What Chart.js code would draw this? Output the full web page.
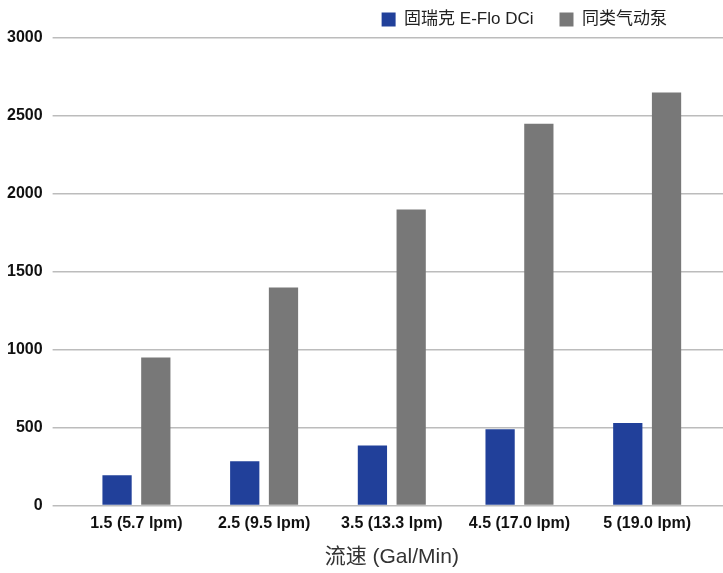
<!DOCTYPE html>
<html>
<head>
<meta charset="utf-8">
<script src="https://cdn.jsdelivr.net/npm/chart.js@4/dist/chart.umd.min.js"></script>
<style>
  body { margin: 0; background: #fff; }
  #wrap { width: 723px; height: 573px; }
</style>
</head>
<body>
<div id="wrap"><canvas id="flowChart"></canvas></div>
<script>
// flow rate categories and outputs
const flowLabels = ['1.5 (5.7 lpm)', '2.5 (9.5 lpm)', '3.5 (13.3 lpm)', '4.5 (17.0 lpm)', '5 (19.0 lpm)'];
const graco = [195, 285, 385, 490, 530];
const airPump = [950, 1400, 1900, 2450, 2650];
const seriesNames = ['固瑞克 E-Flo DCi', '同类气动泵'];
const yMin = 0, yMax = 3000, yStep = 500;

const FONT = '"Liberation Sans", Arial, "Noto Sans CJK SC", sans-serif';
const gridColor = '#bcbcbc';

// move the legend left from the right edge
const legendShift = {
  id: 'legendShift',
  afterLayout(chart) {
    chart.legend.left -= 30;
    chart.legend.right -= 30;
  }
};

const ctx = document.getElementById('flowChart').getContext('2d');
new Chart(ctx, {
  type: 'bar',
  data: {
    labels: flowLabels,
    datasets: [{
      label: seriesNames[0],
      data: graco,
      backgroundColor: '#21409a',
      barPercentage: 0.755,
      categoryPercentage: 0.607
    }, {
      label: seriesNames[1],
      data: airPump,
      backgroundColor: '#787878',
      barPercentage: 0.755,
      categoryPercentage: 0.607
    }]
  },
  options: {
    responsive: true,
    maintainAspectRatio: false,
    animation: false,
    layout: {
      padding: { top: -15, left: -3, right: 0, bottom: 0 }
    },
    scales: {
      x: {
        grid: { display: false, drawTicks: false },
        border: { display: false },
        ticks: {
          padding: 8,
          color: '#111',
          autoSkip: false,
          maxRotation: 0,
          font: { family: FONT, size: 16, weight: 'bold' }
        },
        title: {
          display: true,
          text: '流速 (Gal/Min)',
          color: '#333',
          padding: { top: 4, bottom: 3 },
          font: { family: FONT, size: 21 }
        }
      },
      y: {
        min: yMin,
        max: yMax,
        border: { display: false },
        grid: { color: gridColor, lineWidth: 1.5, tickLength: 20 },
        ticks: {
          stepSize: yStep,
          padding: 10,
          color: '#111',
          font: { family: FONT, size: 16, weight: 'bold' },
          callback: v => String(v)
        }
      },
      y2: {
        position: 'right',
        min: yMin,
        max: yMax,
        border: { display: false },
        grid: { color: gridColor, lineWidth: 1.5, tickLength: 12, drawOnChartArea: false },
        ticks: { stepSize: yStep, display: false }
      }
    },
    plugins: {
      legend: {
        position: 'top',
        align: 'end',
        labels: {
          boxWidth: 14,
          boxHeight: 14,
          padding: 26,
          color: '#222',
          font: { family: FONT, size: 17 }
        }
      },
      tooltip: { enabled: false }
    }
  },
  plugins: [legendShift]
});
</script>
</body>
</html>
